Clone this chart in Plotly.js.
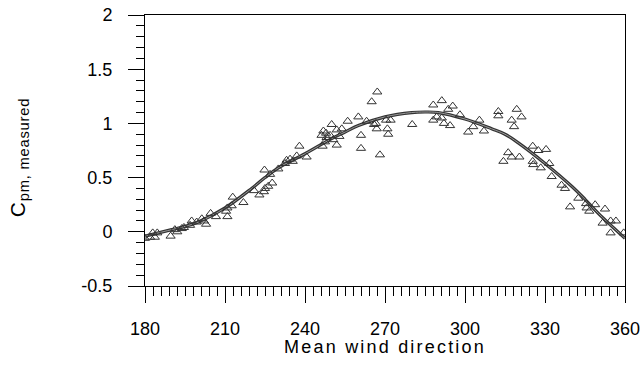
<!DOCTYPE html>
<html>
<head>
<meta charset="utf-8">
<script src="https://cdn.plot.ly/plotly-3.0.1.min.js"></script>
<style>
  html, body { margin: 0; padding: 0; background: #fff; }
  #chart { width: 643px; height: 367px; }
  .annotation[data-index="0"] text { letter-spacing: 2.2px; }
  .annotation[data-index="1"] text { letter-spacing: 0.8px; }
</style>
</head>
<body>
<div id="chart"></div>
<script>
// Fitted curve
const curveX = [180, 190, 195, 200, 210, 220, 225, 230, 240, 250, 255, 260, 270, 280, 285, 290, 300, 310, 315, 320, 330, 340, 345, 350, 360];
const curveY = [-0.04, 0.02, 0.05, 0.09, 0.22, 0.40, 0.50, 0.59, 0.72, 0.86, 0.92, 0.98, 1.06, 1.10, 1.105, 1.10, 1.04, 0.95, 0.90, 0.82, 0.63, 0.42, 0.30, 0.17, -0.06];

// Measured points
const pointX = [180.0, 181.9, 182.9, 183.7, 184.6, 189.6, 191.2, 192.1, 193.8, 194.6, 196.9, 197.5, 199.4, 201.3, 202.1, 202.9, 204.6, 206.6, 210.4, 210.9, 210.9, 212.5, 212.9, 216.9, 220.9, 222.9, 224.6, 224.8, 225.0, 226.2, 226.9, 227.7, 230.0, 232.5, 233.1, 234.4, 235.4, 236.9, 237.9, 240.6, 246.2, 246.6, 246.9, 247.5, 247.9, 248.1, 249.4, 250.0, 250.6, 251.9, 251.9, 252.9, 253.8, 256.0, 260.0, 261.0, 261.0, 263.1, 265.0, 265.9, 266.6, 266.9, 267.1, 268.1, 270.4, 270.9, 271.2, 272.1, 280.2, 288.1, 288.1, 289.4, 291.3, 291.3, 292.1, 293.7, 294.4, 295.4, 298.1, 301.2, 303.1, 305.4, 307.1, 312.5, 312.5, 314.4, 316.2, 317.5, 317.5, 318.4, 319.4, 320.4, 321.2, 325.4, 325.4, 325.6, 327.5, 328.4, 330.4, 331.6, 332.5, 336.2, 337.5, 339.4, 342.5, 345.4, 345.6, 346.6, 348.8, 351.6, 352.5, 354.6, 354.6, 356.6, 359.5];
const pointY = [-0.06, -0.05, -0.01, -0.05, -0.01, -0.04, 0.02, 0.00, 0.03, 0.04, 0.06, 0.10, 0.09, 0.12, 0.10, 0.07, 0.17, 0.14, 0.19, 0.22, 0.14, 0.24, 0.32, 0.27, 0.38, 0.34, 0.37, 0.57, 0.40, 0.42, 0.53, 0.45, 0.58, 0.63, 0.66, 0.67, 0.65, 0.70, 0.79, 0.69, 0.89, 0.79, 0.93, 0.83, 0.91, 0.87, 0.89, 0.99, 0.85, 0.94, 0.80, 0.88, 0.95, 1.02, 1.06, 0.89, 0.77, 1.02, 1.20, 0.99, 1.00, 0.95, 1.29, 0.71, 1.03, 0.95, 0.90, 1.03, 0.99, 1.17, 1.03, 1.06, 1.21, 1.05, 1.00, 1.13, 0.98, 1.16, 1.08, 0.92, 0.97, 1.03, 0.93, 1.11, 1.07, 0.65, 0.73, 1.03, 0.69, 0.97, 1.13, 0.69, 1.06, 0.79, 0.65, 0.62, 0.75, 0.59, 0.76, 0.63, 0.51, 0.43, 0.40, 0.23, 0.31, 0.26, 0.22, 0.19, 0.25, 0.08, 0.21, 0.10, -0.01, 0.10, -0.01];

// Tick definitions (major step / minor step)
const xTickStart = 180, xTickStep = 30, xMinorStep = 3;
const yTickStart = 0, yTickStep = 0.5, yMinorStep = 0.1;
const yLabelAlias = { '\u22120.5': '-0.5' };
const xTitle = 'Mean wind direction';
const yTitle = 'C<sub>pm, measured</sub>';

const FONT = '"Liberation Sans", Arial, Helvetica, sans-serif';
const X_RANGE = [180, 360];
const Y_RANGE = [-0.5, 2];

const traces = [
  {
    x: curveX, y: curveY, type: 'scatter', mode: 'lines',
    line: { color: '#333333', width: 3.2, shape: 'spline', smoothing: 1 },
    hoverinfo: 'skip'
  },
  {
    x: curveX, y: curveY, type: 'scatter', mode: 'lines',
    line: { color: '#9a9a9a', width: 1, shape: 'spline', smoothing: 1 },
    hoverinfo: 'skip'
  },
  {
    x: pointX, y: pointY, type: 'scatter', mode: 'markers',
    marker: { symbol: 'triangle-up-open', size: 8, color: '#333333', line: { width: 1, color: '#333333' } }
  }
];

const axisCommon = {
  showgrid: false, zeroline: false,
  showline: true, linecolor: '#000', linewidth: 1, mirror: true,
  ticks: 'outside', tickcolor: '#000', tickwidth: 1, ticklen: 16,
  tickmode: 'linear',
  tickfont: { family: FONT, size: 18, color: '#000' }
};

const layout = {
  width: 643, height: 367,
  margin: { l: 145, r: 18, t: 15, b: 81 },
  paper_bgcolor: '#fff', plot_bgcolor: '#fff',
  showlegend: false,
  xaxis: Object.assign({}, axisCommon, {
    range: X_RANGE, tick0: xTickStart, dtick: xTickStep,
    ticklabelstandoff: 10,
    minor: { tickmode: 'linear', tick0: xTickStart, dtick: xMinorStep, ticks: 'outside', ticklen: 9, tickcolor: '#000', tickwidth: 1, showgrid: false }
  }),
  yaxis: Object.assign({}, axisCommon, {
    range: Y_RANGE, tick0: yTickStart, dtick: yTickStep,
    labelalias: yLabelAlias,
    ticklabelstandoff: 12,
    minor: { tickmode: 'linear', tick0: yTickStart, dtick: yMinorStep, ticks: 'outside', ticklen: 8, tickcolor: '#000', tickwidth: 1, showgrid: false }
  }),
  annotations: [
    {
      text: xTitle, xref: 'paper', yref: 'paper', x: 0.5, y: 0,
      xanchor: 'center', yanchor: 'top', yshift: -49, showarrow: false,
      font: { family: FONT, size: 18, color: '#000' }
    },
    {
      text: yTitle, xref: 'paper', yref: 'paper', x: 0, y: 0.472,
      xanchor: 'center', yanchor: 'middle', xshift: -126, showarrow: false,
      textangle: -90,
      font: { family: FONT, size: 21, color: '#000' }
    }
  ]
};

Plotly.newPlot('chart', traces, layout, { displayModeBar: false, staticPlot: true });
</script>
</body>
</html>
